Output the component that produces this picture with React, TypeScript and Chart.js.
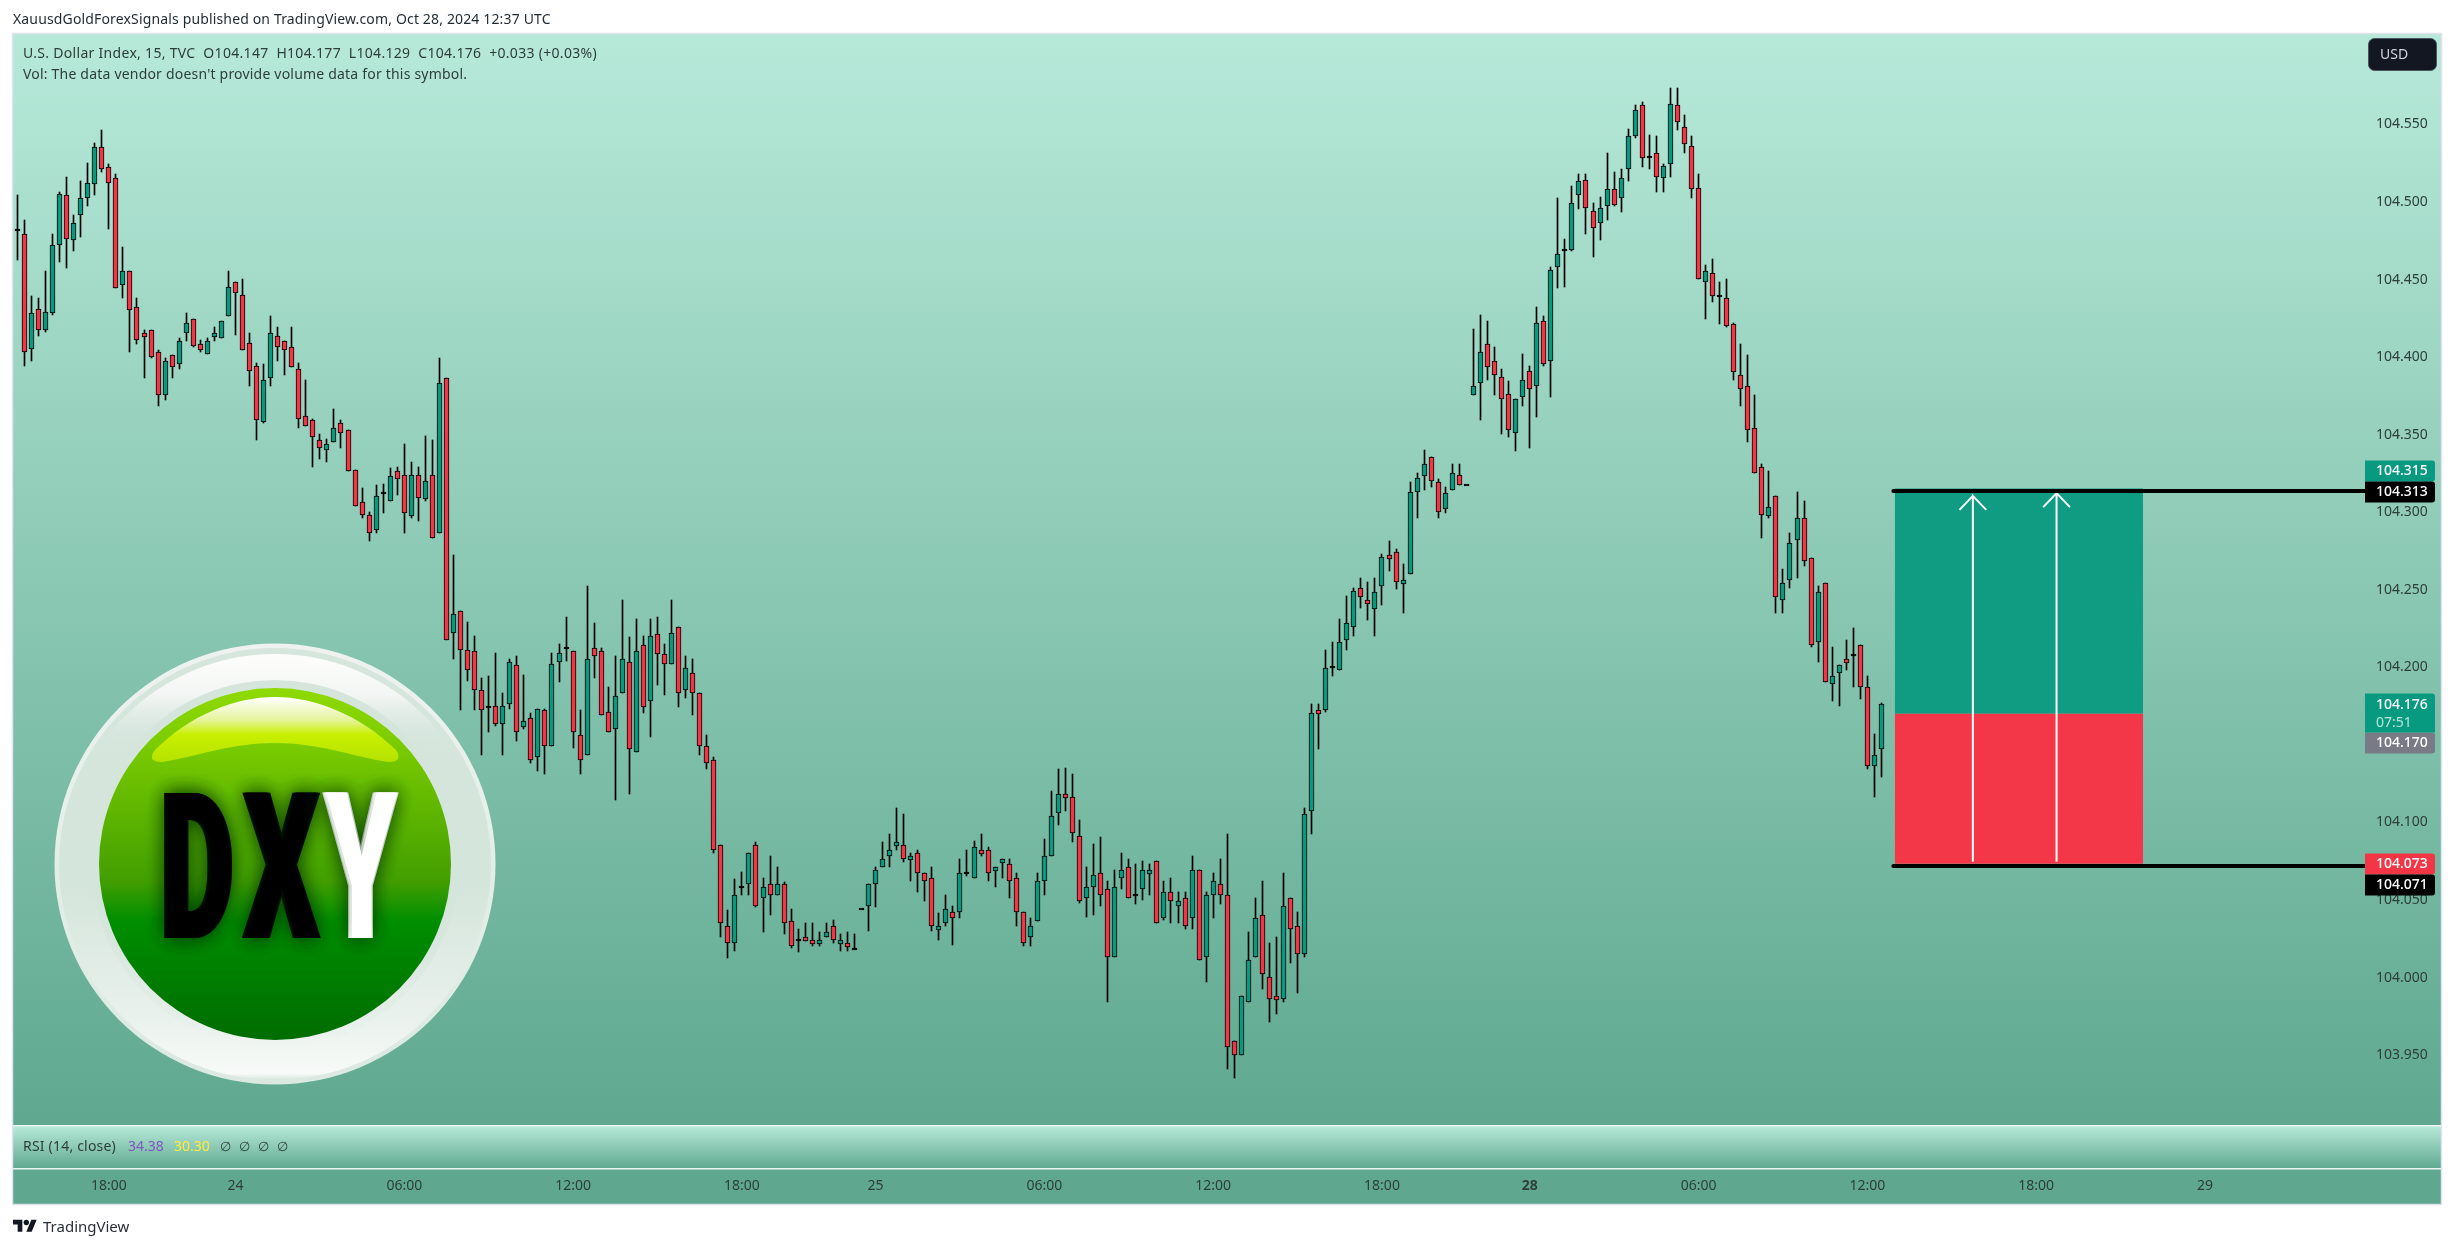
import React, { useEffect, useRef } from "react";
import { Chart, registerables } from "chart.js";

Chart.register(...registerables);

const opens = [
104.482,104.479,104.405,104.431,104.417,104.428,104.472,104.504,104.475,104.491,
104.502,104.511,104.535,104.522,104.515,104.446,104.455,104.432,104.415,104.417,
104.403,104.375,104.401,104.395,104.415,104.424,104.408,104.402,104.413,104.412,
104.426,104.448,104.440,104.409,104.394,104.358,104.386,104.413,104.410,104.406,
104.392,104.362,104.359,104.346,104.340,104.345,104.357,104.353,104.327,104.306,
104.298,104.288,104.312,104.307,104.326,104.324,104.297,104.324,104.308,104.324,
104.286,104.386,104.222,104.236,104.211,104.210,104.185,104.174,104.175,104.163,
104.176,104.201,104.161,104.167,104.142,104.172,104.149,104.203,104.212,104.210,
104.156,104.143,104.212,104.210,104.171,104.160,104.183,104.203,104.145,104.214,
104.178,104.221,104.208,104.202,104.226,104.185,104.196,104.183,104.149,104.140,
104.085,104.033,104.022,104.058,104.060,104.085,104.051,104.060,104.053,104.060,
104.036,104.024,104.026,104.024,104.022,104.026,104.033,104.022,104.022,104.018,
104.044,104.046,104.060,104.071,104.078,104.085,104.085,104.076,104.080,104.067,
104.064,104.031,104.035,104.042,104.042,104.067,104.064,104.082,104.082,104.069,
104.075,104.073,104.064,104.042,104.026,104.036,104.062,104.078,104.106,104.118,
104.116,104.091,104.051,104.058,104.067,104.057,104.013,104.064,104.071,104.053,
104.057,104.067,104.075,104.038,104.055,104.046,104.051,104.038,104.069,104.013,
104.053,104.060,104.053,103.959,103.950,103.984,104.013,104.040,104.000,103.988,
103.986,104.051,104.033,104.015,104.107,104.172,104.172,104.200,104.198,104.217,
104.226,104.251,104.243,104.237,104.252,104.272,104.274,104.254,104.260,104.313,
104.323,104.335,104.319,104.302,104.314,104.324,104.317,104.375,104.383,104.408,
104.397,104.387,104.376,104.351,104.374,104.391,104.381,104.423,104.397,104.458,
104.469,104.469,104.504,104.514,104.494,104.486,104.497,104.508,104.502,104.521,
104.542,104.562,104.529,104.531,104.515,104.524,104.562,104.548,104.536,104.509,
104.448,104.454,104.439,104.438,104.421,104.388,104.381,104.354,104.329,104.297,
104.310,104.243,104.256,104.282,104.296,104.270,104.216,104.254,104.189,104.196,
104.205,104.208,104.214,104.187,104.136,104.147,
];

const highs = [
104.504,104.488,104.439,104.438,104.455,104.479,104.506,104.516,104.491,104.513,
104.525,104.538,104.546,104.524,104.518,104.471,104.455,104.438,104.417,104.417,
104.404,104.399,104.401,104.412,104.428,104.424,104.411,104.412,104.419,104.423,
104.455,104.448,104.450,104.415,104.396,104.395,104.426,104.419,104.410,104.419,
104.396,104.385,104.360,104.350,104.347,104.366,104.359,104.353,104.327,104.315,
104.300,104.317,104.318,104.328,104.329,104.344,104.332,104.329,104.349,104.346,
104.399,104.386,104.272,104.236,104.229,104.220,104.193,104.194,104.209,104.183,
104.205,104.207,104.195,104.170,104.173,104.173,104.209,104.215,104.232,104.210,
104.172,104.252,104.228,104.212,104.187,104.207,104.243,104.219,104.231,104.220,
104.231,104.232,104.215,104.243,104.226,104.207,104.205,104.183,104.156,104.142,
104.085,104.043,104.063,104.068,104.080,104.087,104.064,104.078,104.071,104.061,
104.044,104.031,104.035,104.035,104.029,104.035,104.037,104.028,104.029,104.028,
104.044,104.060,104.071,104.087,104.092,104.109,104.105,104.080,104.082,104.067,
104.071,104.041,104.053,104.046,104.076,104.082,104.088,104.092,104.084,104.071,
104.076,104.076,104.067,104.042,104.038,104.067,104.089,104.120,104.134,104.135,
104.131,104.101,104.071,104.086,104.090,104.062,104.069,104.080,104.076,104.073,
104.075,104.073,104.075,104.062,104.064,104.055,104.055,104.078,104.069,104.055,
104.067,104.076,104.092,103.959,103.988,104.029,104.051,104.062,104.022,104.026,
104.067,104.051,104.042,104.109,104.176,104.176,104.211,104.216,104.231,104.246,
104.251,104.257,104.255,104.257,104.273,104.281,104.276,104.266,104.319,104.325,
104.340,104.335,104.321,104.316,104.331,104.331,104.317,104.418,104.427,104.423,
104.406,104.392,104.384,104.373,104.402,104.394,104.432,104.426,104.458,104.502,
104.476,104.510,104.518,104.518,104.499,104.503,104.531,104.519,104.521,104.547,
104.562,104.564,104.543,104.542,104.524,104.573,104.573,104.556,104.542,104.518,
104.459,104.463,104.448,104.450,104.422,104.408,104.401,104.375,104.331,104.326,
104.310,104.263,104.286,104.313,104.307,104.270,104.252,104.254,104.213,104.201,
104.217,104.225,104.214,104.194,104.157,104.177,
];

const lows = [
104.462,104.394,104.397,104.413,104.416,104.427,104.461,104.457,104.468,104.477,
104.497,104.504,104.519,104.482,104.444,104.438,104.403,104.408,104.386,104.399,
104.368,104.372,104.386,104.392,104.410,104.406,104.403,104.402,104.410,104.412,
104.426,104.414,104.404,104.381,104.346,104.357,104.381,104.397,104.388,104.393,
104.354,104.355,104.329,104.334,104.332,104.345,104.341,104.326,104.304,104.296,
104.281,104.286,104.299,104.307,104.311,104.286,104.296,104.294,104.307,104.283,
104.286,104.217,104.205,104.172,104.191,104.172,104.143,104.158,104.162,104.143,
104.173,104.152,104.160,104.138,104.133,104.131,104.149,104.190,104.204,104.148,
104.131,104.143,104.193,104.169,104.158,104.114,104.183,104.118,104.145,104.170,
104.155,104.188,104.182,104.202,104.174,104.180,104.169,104.143,104.134,104.080,
104.026,104.012,104.017,104.053,104.053,104.045,104.029,104.040,104.053,104.028,
104.019,104.016,104.023,104.020,104.020,104.026,104.022,104.017,104.017,104.018,
104.044,104.030,104.045,104.071,104.071,104.082,104.074,104.062,104.055,104.049,
104.030,104.024,104.033,104.021,104.038,104.065,104.064,104.078,104.062,104.058,
104.064,104.051,104.033,104.020,104.020,104.036,104.053,104.078,104.098,104.107,
104.087,104.048,104.039,104.040,104.046,103.984,104.013,104.057,104.051,104.047,
104.050,104.053,104.035,104.037,104.035,104.035,104.031,104.031,104.011,103.997,
104.038,104.047,103.941,103.935,103.950,103.984,104.013,103.992,103.971,103.976,
103.984,104.009,103.990,104.013,104.092,104.147,104.171,104.194,104.198,104.211,
104.220,104.238,104.230,104.220,104.240,104.262,104.250,104.235,104.260,104.296,
104.314,104.316,104.296,104.299,104.314,104.317,104.317,104.375,104.359,104.385,
104.375,104.350,104.348,104.339,104.368,104.341,104.361,104.394,104.374,104.444,
104.445,104.468,104.495,104.479,104.464,104.475,104.488,104.497,104.493,104.513,
104.541,104.522,104.521,104.506,104.506,104.516,104.546,104.531,104.502,104.450,
104.424,104.435,104.421,104.419,104.385,104.368,104.345,104.325,104.283,104.296,
104.235,104.235,104.251,104.257,104.265,104.213,104.203,104.190,104.178,104.175,
104.198,104.187,104.179,104.134,104.116,104.129,
];

const closes = [
104.482,104.403,104.428,104.417,104.429,104.472,104.505,104.476,104.486,104.502,
104.512,104.535,104.521,104.512,104.444,104.455,104.430,104.411,104.413,104.400,
104.375,104.397,104.393,104.410,104.422,104.407,104.404,104.410,104.415,104.423,
104.445,104.441,104.404,104.391,104.359,104.385,104.415,104.406,104.404,104.393,
104.360,104.355,104.348,104.341,104.344,104.354,104.351,104.326,104.304,104.298,
104.286,104.310,104.312,104.323,104.321,104.299,104.324,104.309,104.320,104.283,
104.383,104.217,104.234,104.211,104.198,104.185,104.172,104.174,104.163,104.175,
104.203,104.158,104.165,104.140,104.173,104.149,104.202,104.209,104.212,104.158,
104.140,104.205,104.207,104.169,104.158,104.181,104.205,104.147,104.210,104.174,
104.220,104.208,104.202,104.222,104.183,104.199,104.183,104.149,104.138,104.082,
104.035,104.022,104.053,104.058,104.080,104.046,104.058,104.053,104.060,104.035,
104.020,104.024,104.024,104.022,104.024,104.029,104.024,104.024,104.020,104.018,
104.044,104.060,104.069,104.076,104.082,104.087,104.076,104.078,104.067,104.062,
104.033,104.033,104.044,104.038,104.067,104.067,104.084,104.080,104.067,104.071,
104.076,104.062,104.042,104.022,104.033,104.062,104.078,104.104,104.118,104.116,
104.093,104.049,104.058,104.066,104.053,104.013,104.058,104.069,104.051,104.053,
104.069,104.069,104.035,104.055,104.049,104.049,104.033,104.069,104.011,104.053,
104.062,104.053,103.955,103.950,103.988,104.011,104.038,104.002,103.986,103.986,
104.046,104.031,104.015,104.105,104.170,104.171,104.199,104.200,104.216,104.228,
104.249,104.245,104.241,104.248,104.271,104.270,104.255,104.256,104.313,104.322,
104.331,104.320,104.300,104.312,104.325,104.317,104.317,104.381,104.403,104.393,
104.388,104.373,104.353,104.373,104.385,104.379,104.422,104.395,104.456,104.466,
104.469,104.499,104.513,104.496,104.483,104.496,104.508,104.498,104.515,104.542,
104.559,104.528,104.529,104.516,104.523,104.563,104.551,104.537,104.508,104.450,
104.455,104.439,104.439,104.420,104.390,104.379,104.353,104.325,104.298,104.303,
104.245,104.254,104.280,104.296,104.268,104.214,104.248,104.190,104.194,104.201,
104.203,104.208,104.187,104.136,104.143,104.176,
];

const priceTicks = [103.95,104.0,104.05,104.1,104.15,104.2,104.25,104.3,104.35,104.4,104.45,104.5,104.55];
const timeTickBars = [13,31,55,79,103,122,146,170,194,215,239,263,287,311];
const timeTickLabels = ["18:00","24","06:00","12:00","18:00","25","06:00","12:00","18:00","28","06:00","12:00","18:00","29"];
const boldTimeLabel = "28";

const targetPrice = 104.315;
const entryPrice = 104.17;
const stopPrice = 104.073;
const upperLevel = 104.313;
const lowerLevel = 104.071;
const boxBars = [266.9, 302.2];
const levelStartBar = 266.7;
const arrowBars = [278, 289.9];
const arrowTops = [104.3102, 104.312];
const arrowBottom = 104.0744;

const yMin = 103.904;
const yMax = 104.608;
const xMin = -0.626;
const xMax = 333.75;

const priceTags = [
  { value: 104.315, text: "104.315", bg: "#089981", dy: -17.5 },
  { value: 104.313, text: "104.313", bg: "#000000", dy: 0 },
  { value: 104.073, text: "104.073", bg: "#f23645", dy: 0 },
  { value: 104.071, text: "104.071", bg: "#000000", dy: 18.5 },
  { value: 104.17, text: "104.170", bg: "#787b86", dy: 30 },
];
const lastPrice = 104.176;
const lastLabel = "104.176";
const countdown = "07:51";

const GREEN = "#089981";
const RED = "#f23645";
const FONT = "'Noto Sans', sans-serif";
const LOGO_FONT = "Roboto, sans-serif";
const TEXT = "#2e3e3a";

function circle(ctx: CanvasRenderingContext2D, x: number, y: number, r: number, fill: any) {
  ctx.beginPath();
  ctx.arc(x, y, r, 0, Math.PI * 2);
  ctx.fillStyle = fill;
  ctx.fill();
}

function vgrad(ctx: CanvasRenderingContext2D, y0: number, y1: number, stops: [number, string][]) {
  const g = ctx.createLinearGradient(0, y0, 0, y1);
  stops.forEach(([p, c]) => g.addColorStop(p, c));
  return g;
}

function fitLetter(ctx: CanvasRenderingContext2D, ch: string, left: number, right: number, base: number, color: string) {
  const m = ctx.measureText(ch);
  const w = m.actualBoundingBoxLeft + m.actualBoundingBoxRight;
  const bold = 2.5;
  const sx = (right - left - bold * 2) / w;
  ctx.save();
  ctx.fillStyle = color;
  [0, -bold, bold, -bold / 2, bold / 2].forEach((dx) => {
    ctx.save();
    ctx.translate(left + bold + dx + m.actualBoundingBoxLeft * sx, base);
    ctx.scale(sx, 1);
    ctx.fillText(ch, 0, 0);
    ctx.restore();
  });
  ctx.restore();
}

function drawLogo(ctx: CanvasRenderingContext2D) {
  const cx = 275, cy = 864;
  ctx.save();
  circle(ctx, cx, cy, 220.5, vgrad(ctx, cy - 220, cy + 220, [[0, "#eef2f0"], [0.5, "#e4eee9"], [1, "#dbe9e2"]]));
  circle(ctx, cx, cy, 216, vgrad(ctx, cy - 216, cy + 216, [[0, "#d6e6dd"], [0.55, "#d4e5db"], [0.85, "#e9f1ec"], [0.985, "#f7faf8"], [1, "#d6e6dd"]]));
  circle(ctx, cx, cy + 2, 212, vgrad(ctx, cy - 210, cy - 118, [[0, "#fdfdfc"], [0.45, "#f3f6f4"], [1, "rgba(214,230,221,0)"]]));
  circle(ctx, cx, cy, 184, vgrad(ctx, cy - 184, cy + 184, [[0, "#d5e5dc"], [0.5, "#d4e5db"], [1, "rgba(213,229,220,0)"]]));
  circle(ctx, cx, cy, 176, vgrad(ctx, cy - 176, cy + 176, [[0, "#8fda00"], [0.12, "#80d000"], [0.33, "#62b800"], [0.55, "#429e00"], [0.66, "#008e00"], [0.85, "#007b00"], [1, "#006c00"]]));

  ctx.beginPath();
  ctx.moveTo(155, 750);
  ctx.bezierCurveTo(190, 715, 235, 697, 275, 697);
  ctx.bezierCurveTo(315, 697, 360, 715, 396, 750);
  ctx.quadraticCurveTo(404, 762, 388, 762);
  ctx.bezierCurveTo(350, 756, 320, 743, 275, 743);
  ctx.bezierCurveTo(230, 743, 200, 756, 162, 762);
  ctx.quadraticCurveTo(146, 762, 155, 750);
  ctx.closePath();
  ctx.fillStyle = vgrad(ctx, 697, 762, [[0, "#ffffff"], [0.35, "#e6f49c"], [0.58, "#c9ef00"], [1, "#b4e300"]]);
  ctx.fill();

  ctx.font = `900 204px ${LOGO_FONT}`;
  ctx.textBaseline = "alphabetic";
  ctx.textAlign = "left";
  ctx.shadowColor = "rgba(0,50,0,0.3)";
  ctx.shadowBlur = 20;
  fitLetter(ctx, "D", 164, 232, 938, "#000000");
  fitLetter(ctx, "X", 241.5, 321, 938, "#000000");
  fitLetter(ctx, "Y", 322, 399, 938, "#ffffff");
  ctx.restore();
}

// Snaps the marks the library has laid out to whole device pixels, as the original renderer does.
function snapMarks(chart: any) {
  chart.data.datasets.forEach((ds: any, di: number) => {
    const els = chart.getDatasetMeta(di).data;
    if (ds.label === "level") {
      els.forEach((el: any) => { el.y = Math.floor(el.y); });
      return;
    }
    if (ds.label !== "body" && ds.label !== "wick") return;
    const isBody = ds.label === "body";
    els.forEach((el: any, i: number) => {
      el.x = Math.floor(el.x) + 0.5;
      const top = Math.round(Math.min(el.y, el.base));
      let bot = Math.round(Math.max(el.y, el.base));
      if (isBody) {
        const minH = opens[i] === closes[i] ? 2 : 4;
        if (bot - top < minH) bot = top + minH;
      }
      el.y = top;
      el.base = bot;
    });
  });
}

const backdrop = {
  id: "backdrop",
  beforeDraw(chart: any) {
    const ctx: CanvasRenderingContext2D = chart.ctx;
    ctx.save();
    const left = 13, right = 2441, top = 34, mid = 1126, low = 1169, bottom = 1204;
    const light = "#b7e9d9", dark = "#5fa88f";
    ctx.fillStyle = vgrad(ctx, top, mid, [[0, light], [1, dark]]);
    ctx.fillRect(left, top, right - left, mid - top);
    ctx.fillStyle = vgrad(ctx, mid, low, [[0, light], [1, dark]]);
    ctx.fillRect(left, mid, right - left, low - mid);
    ctx.fillStyle = dark;
    ctx.fillRect(left, low, right - left, bottom - low);
    ctx.strokeStyle = "#e0e3eb";
    ctx.lineWidth = 1.5;
    ctx.strokeRect(left - 0.5, top - 0.5, right - left + 1, bottom - top + 1);
    ctx.fillStyle = "#eef4f1";
    ctx.fillRect(left, mid - 1, right - left, 1.5);
    ctx.fillRect(left, low - 1, right - left, 1.5);
    ctx.restore();
  },
  beforeDatasetsDraw(chart: any) {
    snapMarks(chart);
    drawLogo(chart.ctx);
  },
  afterDraw(chart: any) {
    const ctx: CanvasRenderingContext2D = chart.ctx;
    const y = chart.scales.y;
    ctx.save();
    const tagX = 2365, tagW = 70;
    ctx.textBaseline = "middle";
    ctx.textAlign = "left";
    const tag = (cy: number, h: number, bg: string) => {
      ctx.beginPath();
      ctx.roundRect(tagX, cy - h / 2, tagW, h, [0, 3, 3, 0]);
      ctx.fillStyle = bg;
      ctx.fill();
    };
    priceTags.forEach((t) => {
      const cy = Math.round(y.getPixelForValue(t.value) + t.dy);
      tag(cy, 21, t.bg);
      ctx.font = `500 14px ${FONT}`;
      ctx.fillStyle = "#ffffff";
      ctx.fillText(t.text, 2376, cy + 0.5);
    });
    const ly = y.getPixelForValue(lastPrice);
    ctx.beginPath();
    ctx.roundRect(tagX, ly - 10.5, tagW, 39, [0, 3, 0, 0]);
    ctx.fillStyle = GREEN;
    ctx.fill();
    ctx.font = `500 14px ${FONT}`;
    ctx.fillStyle = "#ffffff";
    ctx.fillText(lastLabel, 2376, ly + 1);
    ctx.font = `400 14px ${FONT}`;
    ctx.fillStyle = "#b5e6da";
    ctx.fillText(countdown, 2376, ly + 19);

    ctx.beginPath();
    ctx.roundRect(2368.5, 38.5, 68, 32, 6);
    ctx.fillStyle = "#131722";
    ctx.fill();
    ctx.strokeStyle = "#4a5560";
    ctx.lineWidth = 1;
    ctx.stroke();
    ctx.font = `400 14px ${FONT}`;
    ctx.fillStyle = "#d1d4dc";
    ctx.fillText("USD", 2380, 55);
    ctx.restore();
  },
};

const textStyle = (x: number, y: number, size = 14, color = TEXT, spacing = 0): React.CSSProperties => ({
  position: "absolute",
  left: x,
  top: y,
  fontFamily: FONT,
  fontSize: size,
  lineHeight: "20px",
  color,
  letterSpacing: spacing,
  whiteSpace: "pre",
});

export default function App() {
  const ref = useRef<HTMLCanvasElement | null>(null);
  useEffect(() => {
    document.body.style.margin = "0";
    document.body.style.overflow = "hidden";
    document.body.style.background = "#ffffff";
    const bars = opens.map((_, i) => i);
    const bodyData = bars.map((i) => {
      const o = opens[i], c = closes[i];
      return o === c ? { x: i, y: [o - 0.0006, o + 0.0006] } : { x: i, y: [o, c] };
    });
    const bodyColors = bars.map((i) =>
      opens[i] === closes[i] ? "#000000" : closes[i] > opens[i] ? GREEN : RED
    );
    const levelLine = (v: number) => ({
      label: "level",
      type: "line",
      data: [{ x: levelStartBar, y: v }, { x: xMax, y: v }],
      borderColor: "#000000",
      borderWidth: 4,
      borderCapStyle: "round",
      pointRadius: 0,
      order: 0,
    });
    const arrow = (x: number, top: number) => ({
      type: "line",
      data: [
        { x: x - 1.9, y: top - 0.009 },
        { x, y: top },
        { x: x + 1.9, y: top - 0.009 },
        { x, y: top },
        { x, y: arrowBottom },
      ],
      borderColor: "#ffffff",
      borderWidth: 2,
      pointRadius: 0,
      tension: 0,
      order: 1,
    });
    const zone = (from: number, to: number, color: string) => ({
      type: "line",
      data: [{ x: boxBars[0], y: from }, { x: boxBars[1], y: from }],
      fill: { value: to },
      backgroundColor: color,
      borderWidth: 0,
      pointRadius: 0,
      order: 2,
    });
    const chart = new Chart(ref.current as HTMLCanvasElement, {
      type: "bar",
      data: {
        datasets: [
          levelLine(upperLevel),
          levelLine(lowerLevel),
          arrow(arrowBars[0], arrowTops[0]),
          arrow(arrowBars[1], arrowTops[1]),
          zone(targetPrice, entryPrice, "#0f9c83"),
          zone(entryPrice, stopPrice, "#f43748"),
          {
            label: "body",
            data: bodyData,
            backgroundColor: bodyColors,
            borderColor: "#000000",
            borderWidth: 1,
            borderSkipped: false,
            grouped: false,
            barPercentage: 1,
            categoryPercentage: 1,
            maxBarThickness: 5,
            order: 3,
          },
          {
            label: "wick",
            data: bars.map((i) => ({ x: i, y: [lows[i], highs[i]] })),
            backgroundColor: "#000000",
            borderWidth: 0,
            grouped: false,
            barPercentage: 1,
            categoryPercentage: 1,
            maxBarThickness: 1,
            order: 4,
          },
        ] as any,
      },
      options: {
        responsive: false,
        animation: false,
        devicePixelRatio: 1,
        layout: { padding: { top: 34, left: 13, right: 0, bottom: 0 } },
        plugins: { legend: { display: false }, tooltip: { enabled: false }, title: { display: false } },
        scales: {
          x: {
            type: "linear",
            min: xMin,
            max: xMax,
            offset: false,
            grid: { display: false, drawTicks: false },
            border: { display: false },
            afterFit: (s: any) => { s.height = 122; },
            afterBuildTicks: (s: any) => { s.ticks = timeTickBars.map((value) => ({ value })); },
            ticks: {
              autoSkip: false,
              maxRotation: 0,
              padding: 52,
              color: TEXT,
              callback: (_: any, i: number) => timeTickLabels[i],
              font: (c: any) => ({
                family: FONT,
                size: 14,
                weight: timeTickLabels[c.index] === boldTimeLabel ? "bold" : "normal",
              }),
            },
          },
          y: {
            type: "linear",
            position: "right",
            min: yMin,
            max: yMax,
            grid: { display: false, drawTicks: false },
            border: { display: false },
            afterFit: (s: any) => { s.width = 89; },
            afterBuildTicks: (s: any) => { s.ticks = priceTicks.map((value) => ({ value })); },
            ticks: {
              autoSkip: false,
              padding: 11,
              labelOffset: 0.5,
              color: TEXT,
              font: { family: FONT, size: 14 },
              callback: (v: any) => Number(v).toFixed(3),
            },
          },
        },
      } as any,
      plugins: [backdrop],
    } as any);
    return () => chart.destroy();
  }, []);

  return (
    <div style={{ position: "absolute", left: 0, top: 0, width: 2454, height: 1248, background: "#ffffff", overflow: "hidden" }}>
      <canvas ref={ref} width={2454} height={1248} style={{ position: "absolute", left: 0, top: 0, width: 2454, height: 1248 }} />
      <div style={textStyle(13, 9, 14, "#1f2a33", 0.15)}>XauusdGoldForexSignals published on TradingView.com, Oct 28, 2024 12:37 UTC</div>
      <div style={textStyle(23, 43, 14, TEXT, 0.3)}>U.S. Dollar Index, 15, TVC  O104.147  H104.177  L104.129  C104.176  +0.033 (+0.03%)</div>
      <div style={textStyle(23, 64, 14, TEXT, 0.2)}>Vol: The data vendor doesn't provide volume data for this symbol.</div>
      <div style={textStyle(23, 1136, 14, TEXT, 0.2)}>RSI (14, close)</div>
      <div style={textStyle(128, 1136, 14, "#7e57c2")}>34.38</div>
      <div style={textStyle(174, 1136, 14, "#ffeb3b")}>30.30</div>
      <div style={textStyle(220, 1136, 13, "#2e3e3a")}>∅</div>
      <div style={textStyle(239, 1136, 13, "#2e3e3a")}>∅</div>
      <div style={textStyle(258, 1136, 13, "#2e3e3a")}>∅</div>
      <div style={textStyle(277, 1136, 13, "#2e3e3a")}>∅</div>
      <svg style={{ position: "absolute", left: 13, top: 1217 }} width="24" height="19" viewBox="0 0 36 28">
        <path d="M14 22H7V11H0V4h14v18zM28 22h-8l7.5-18h8L28 22z" fill="#131722" />
        <circle cx="20" cy="8" r="4" fill="#131722" />
      </svg>
      <div style={textStyle(43, 1216, 15, "#2a2e39")}>TradingView</div>
    </div>
  );
}
